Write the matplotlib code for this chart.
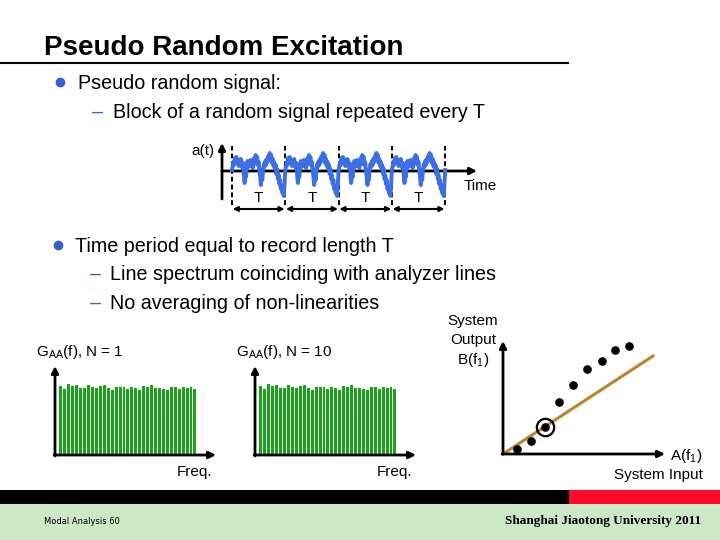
import numpy as np
import matplotlib
matplotlib.use("Agg")
import matplotlib.pyplot as plt

plt.rcParams['font.family'] = ['Liberation Sans', 'DejaVu Sans']

# ---------------- data ----------------
# one period (T) of the pseudo random signal, repeated every T
signal_block = [1, 5, 9, 6, 13, 10, 14, 8, 11, 5,
                9, 7, 12, 6, 3, 8, -4, -12, -3, -6,
                6, 10, 4, 9, 7, 11, 5, 8, 3, 9,
                13, 7, 16, 11, 14, 6, 9, 0, -6, -14,
                -4, -9, 2, 7, 4, 10, 6, 12, 9, 15,
                11, 18, 13, 16, 8, 12, 5, 9, 2, 6,
                -3, 2, -8, -4, -13, -9, -18, -15, -22, -19,
                -25, -12]
n_periods = 4
period_labels = ["T", "T", "T", "T"]

# line spectrum heights (same for N = 1 and N = 10)
spectrum_n1 = [69, 66, 71, 69, 70, 67, 67, 70, 68, 67, 69, 70, 67, 65, 68, 68, 68, 66,
               68, 67, 65, 69, 68, 70, 67, 67, 66, 65, 68, 68, 66, 68, 67, 68, 66]
spectrum_n10 = [69, 66, 71, 69, 70, 67, 67, 70, 68, 67, 69, 70, 67, 65, 68, 68, 68, 66,
                68, 67, 65, 69, 68, 70, 67, 67, 66, 65, 68, 68, 66, 68, 67, 68, 66]

# system input / output (nonlinear) and linear reference
input_a = [14, 28, 42, 56, 70, 84, 99, 112, 126]
output_b = [5, 13, 27, 52, 69, 85, 93, 104, 108]
circled_idx = 2
linear_x = [0, 150]
linear_y = [0, 98]

W, H = 720, 540
fig = plt.figure(figsize=(7.2, 5.4), dpi=100)


def px_axes(x0, y0, x1, y1, z=1):
    ax = fig.add_axes([x0 / W, 1 - y1 / H, (x1 - x0) / W, (y1 - y0) / H], zorder=z)
    ax.set_facecolor('none')
    ax.axis('off')
    return ax


# ---------------- background / slide decorations ----------------
bg = px_axes(0, 0, W, H, z=0)
bg.set_xlim(0, W)
bg.set_ylim(H, 0)
bg.add_patch(plt.Rectangle((0, 504), W, 36, color='#cde8c5', lw=0))
bg.add_patch(plt.Rectangle((0, 490), W, 14, color='black', lw=0))
bg.add_patch(plt.Rectangle((569, 490), W - 569, 14, color='#ff0a2a', lw=0))
bg.plot([0, 568], [63, 63], color='black', lw=1.5)

bg.text(44, 55, "Pseudo Random Excitation", fontsize=20, fontweight='bold',
        va='baseline', ha='left')
blue = '#3a5fd0'
fs = 14.2
bg.plot([60], [82], 'o', color=blue, ms=6)
bg.text(78, 89, "Pseudo random signal:", fontsize=fs, va='baseline')
bg.text(92, 118, "–", fontsize=fs, va='baseline', color=blue)
bg.text(113, 118, "Block of a random signal repeated every T", fontsize=fs, va='baseline')
bg.plot([58], [245], 'o', color=blue, ms=6)
bg.text(75, 252, "Time period equal to record length T", fontsize=fs, va='baseline')
bg.text(90, 280, "–", fontsize=fs, va='baseline', color=blue)
bg.text(110, 280, "Line spectrum coinciding with analyzer lines", fontsize=fs, va='baseline')
bg.text(90, 309, "–", fontsize=fs, va='baseline', color=blue)
bg.text(110, 309, "No averaging of non-linearities", fontsize=fs, va='baseline')

bg.text(44, 522, "Modal Analysis 60", fontsize=6, va='center',
        family=['Liberation Sans Narrow', 'DejaVu Sans'])
bg.text(701, 521, "Shanghai Jiaotong University 2011", fontsize=9.5, va='center', ha='right',
        fontweight='bold', family=['Liberation Serif', 'DejaVu Serif'])

# ---------------- time signal ----------------
ax1 = px_axes(180, 138, 505, 215)
pw = 53.3
ax1.set_xlim((180 - 232) / pw, (505 - 232) / pw)
ax1.set_ylim(171 - 215, 171 - 138)
nb = len(signal_block)
t = np.concatenate([k + np.arange(nb) / nb for k in range(n_periods)] + [[n_periods]])
a = np.array(signal_block * n_periods + [signal_block[0]], dtype=float)
ax1.plot(t, a, color='#3c6ee6', lw=2.8, solid_joinstyle='round', zorder=3)
x_org = (222 - 232) / pw
ax1.annotate('', xy=(x_org, 171 - 143), xytext=(x_org, 171 - 199),
             arrowprops=dict(arrowstyle='-|>', color='black', lw=2, mutation_scale=10,
                             shrinkA=0, shrinkB=0))
ax1.annotate('', xy=((477 - 232) / pw, 0), xytext=(x_org, 0),
             arrowprops=dict(arrowstyle='-|>', color='black', lw=2, mutation_scale=10,
                             shrinkA=0, shrinkB=0), zorder=2)
for k in range(n_periods + 1):
    ax1.plot([k, k], [171 - 205, 171 - 146], color='black', lw=1.4, ls=(0, (2.5, 1.5)))
for k in range(n_periods):
    ax1.annotate('', xy=(k + 1, 171 - 209), xytext=(k, 171 - 209),
                 arrowprops=dict(arrowstyle='<|-|>', color='black', lw=1.5, mutation_scale=7,
                                 shrinkA=0.5, shrinkB=0.5))
    ax1.text(k + 0.5, 171 - 198, period_labels[k], fontsize=11, ha='center', va='center')
ax1.text((215 - 232) / pw, 171 - 151, "a(t)", fontsize=11, ha='right', va='center')
ax1.text((464 - 232) / pw, 171 - 186, "Time", fontsize=11, ha='left', va='center')

# ---------------- spectra ----------------
green = '#19a319'
for off, spec, lab in [(0, spectrum_n1, r'G$_{\mathregular{AA}}$(f), N = 1'),
                       (200, spectrum_n10, r'G$_{\mathregular{AA}}$(f), N = 10')]:
    ax = px_axes(30 + off, 340, 230 + off, 485)
    bp = 3.94
    ax.set_xlim((30 + off - (59 + off)) / bp - 0.5, (230 + off - (59 + off)) / bp - 0.5)
    ax.set_ylim(455 - 485, 455 - 340)
    ax.bar(np.arange(len(spec)), spec, width=0.75, color=green, lw=0, antialiased=False)
    xo = (55 - 59) / bp - 0.5
    ax.annotate('', xy=(xo, 455 - 366), xytext=(xo, -1),
                arrowprops=dict(arrowstyle='-|>', color='black', lw=2, mutation_scale=10,
                                shrinkA=0, shrinkB=0))
    ax.annotate('', xy=((216 - 59) / bp - 0.5, 0), xytext=(xo - 0.25, 0),
                arrowprops=dict(arrowstyle='-|>', color='black', lw=2, mutation_scale=10,
                                shrinkA=0, shrinkB=0))
    ax.text((36 - 59) / bp - 0.5, 455 - 352, lab, fontsize=11, ha='left', va='center')
    ax.text((212 - 59) / bp - 0.5, 455 - 472, "Freq.", fontsize=11, ha='right', va='center')

# ---------------- input / output ----------------
ax3 = px_axes(440, 305, 720, 488)
ax3.set_xlim(440 - 503, 720 - 503)
ax3.set_ylim(454 - 488, 454 - 305)
ax3.plot(linear_x, linear_y, color='#b8862b', lw=2.2, zorder=2)
ax3.plot(input_a, output_b, 'o', color='black', ms=5.2, zorder=3)
ax3.plot([input_a[circled_idx]], [output_b[circled_idx]], 'o', mfc='none', mec='black',
         ms=12.5, mew=1.6, zorder=3)
ax3.annotate('', xy=(0, 454 - 341), xytext=(0, 0),
             arrowprops=dict(arrowstyle='-|>', color='black', lw=2, mutation_scale=10,
                             shrinkA=0, shrinkB=0))
ax3.annotate('', xy=(665 - 503, 0), xytext=(-1, 0),
             arrowprops=dict(arrowstyle='-|>', color='black', lw=2, mutation_scale=10,
                             shrinkA=0, shrinkB=0))
ax3.text(473 - 503, 454 - 321, "System", fontsize=11, ha='center', va='center')
ax3.text(473 - 503, 454 - 340, "Output", fontsize=11, ha='center', va='center')
ax3.text(473 - 503, 454 - 360, r'B(f$_{\mathregular{1}}$)', fontsize=11, ha='center', va='center')
ax3.text(686 - 503, 454 - 456, r'A(f$_{\mathregular{1}}$)', fontsize=11, ha='center', va='center')
ax3.text(658 - 503, 454 - 475, "System Input", fontsize=11, ha='center', va='center')

fig.savefig("out.png", dpi=100)
